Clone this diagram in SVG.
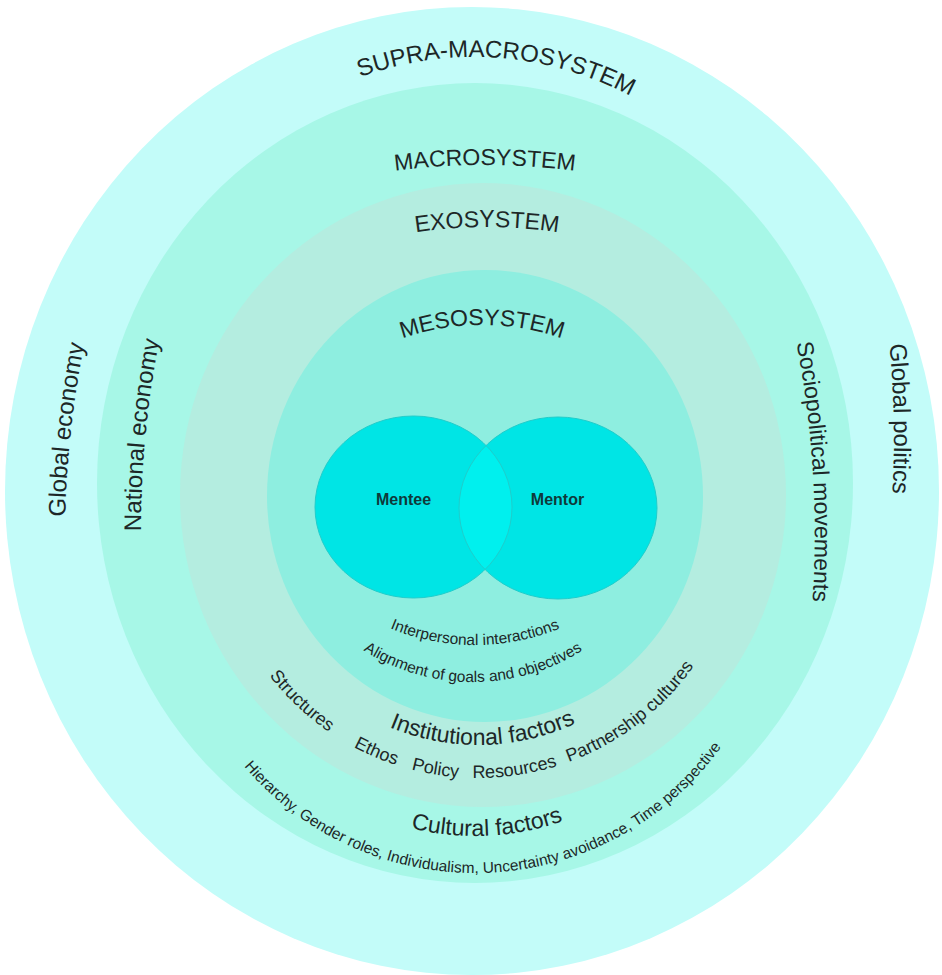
<svg xmlns="http://www.w3.org/2000/svg" width="942" height="975" viewBox="0 0 942 975">
<defs>
<style>
text { font-family: "Liberation Sans", Arial, sans-serif; fill: #1d2727; }
.big { font-size: 24px; }
.mid { font-size: 23px; }
.sm { font-size: 18px; }
.xs { font-size: 15.5px; }
.venn { font-size: 16px; font-weight: bold; fill: #0f3a3a; }
.ring-supra { fill: #c3fcf9; }
.ring-macro { fill: #a7f7e7; }
.ring-exo { fill: #b4ede0; }
.ring-meso { fill: #8eeee0; }
.vfill { fill: #00e5e5; }
.vlens { fill: #00f0ee; }
.vline { fill: none; stroke: #1fcdcb; stroke-width: 1; }
</style>
<path id="p-supra" d="M278.9,120.4 A332,332 0 0 1 704.6,150.2"/>
<path id="p-macro" d="M338.4,180.4 A705,705 0 0 1 631.6,180.4"/>
<path id="p-exo" d="M365.4,243 A470,470 0 0 1 608.6,243"/>
<path id="p-meso" d="M359,358 A246,246 0 0 1 605,358"/>
<path id="p-inter" d="M345.9,604.3 A225,225 0 0 0 604.1,604.3"/>
<path id="p-align" d="M328,622 A205,205 0 0 0 618,622"/>
<path id="p-inst" d="M349.6,705.9 A231,231 0 0 0 614.4,700.4"/>
<path id="p-row" d="M214,514 A264,264 0 0 0 742,514"/>
<path id="p-cult" d="M352.6,806.2 A267,267 0 0 0 619.2,793.7"/>
<path id="p-hier" d="M194.2,684.8 A303.6,303.6 0 0 0 764.3,661.5"/>
<path id="p-geco" d="M65.2,560.2 A1000,1000 0 0 1 93.8,301.8"/>
<path id="p-neco" d="M141.6,565.4 A1000,1000 0 0 1 166.4,306.6"/>
<path id="p-socio" d="M790,312.8 A1000,1000 0 0 1 810,632.2"/>
<path id="p-gpol" d="M884.1,299 A1000,1000 0 0 1 888.9,539"/>
<clipPath id="clip-mentee"><ellipse cx="413.5" cy="507" rx="98.5" ry="91"/></clipPath>
</defs>
<rect width="942" height="975" fill="#ffffff"/>
<g id="supra-macrosystem">
<ellipse class="ring-supra" cx="472" cy="491" rx="467" ry="484"/>
<text class="big"><textPath href="#p-supra" startOffset="50%" text-anchor="middle">SUPRA-MACROSYSTEM</textPath></text>
<text class="big"><textPath href="#p-geco" startOffset="50%" text-anchor="middle">Global economy</textPath></text>
<text class="big"><textPath href="#p-gpol" startOffset="50%" text-anchor="middle">Global politics</textPath></text>
</g>
<g id="macrosystem">
<ellipse class="ring-macro" cx="475" cy="483" rx="378" ry="400"/>
<text class="mid"><textPath href="#p-macro" startOffset="50%" text-anchor="middle">MACROSYSTEM</textPath></text>
<text class="big"><textPath href="#p-neco" startOffset="50%" text-anchor="middle">National economy</textPath></text>
<text class="mid"><textPath href="#p-socio" startOffset="50%" text-anchor="middle">Sociopolitical movements</textPath></text>
<text class="mid"><textPath href="#p-cult" startOffset="50%" text-anchor="middle">Cultural factors</textPath></text>
<text class="xs"><textPath href="#p-hier" startOffset="50%" text-anchor="middle">Hierarchy, Gender roles, Individualism, Uncertainty avoidance, Time perspective</textPath></text>
</g>
<g id="exosystem">
<ellipse class="ring-exo" cx="483" cy="495" rx="303" ry="312"/>
<text class="mid"><textPath href="#p-exo" startOffset="50%" text-anchor="middle">EXOSYSTEM</textPath></text>
<text class="mid"><textPath href="#p-inst" startOffset="50%" text-anchor="middle">Institutional factors</textPath></text>
<text class="sm"><textPath href="#p-row" startOffset="174">Structures</textPath></text>
<text class="sm"><textPath href="#p-row" startOffset="285">Ethos</textPath></text>
<text class="sm"><textPath href="#p-row" startOffset="347">Policy</textPath></text>
<text class="sm"><textPath href="#p-row" startOffset="409">Resources</textPath></text>
<text class="sm"><textPath href="#p-row" startOffset="507">Partnership cultures</textPath></text>
</g>
<g id="mesosystem">
<ellipse class="ring-meso" cx="485" cy="496" rx="218" ry="226"/>
<text class="mid"><textPath href="#p-meso" startOffset="50%" text-anchor="middle">MESOSYSTEM</textPath></text>
<text class="xs"><textPath href="#p-inter" startOffset="50%" text-anchor="middle">Interpersonal interactions</textPath></text>
<text class="xs"><textPath href="#p-align" startOffset="50%" text-anchor="middle">Alignment of goals and objectives</textPath></text>
</g>
<g id="mentee">
<ellipse class="vfill" cx="413.5" cy="507" rx="98.5" ry="91"/>
</g>
<g id="mentor">
<ellipse class="vfill" cx="558" cy="508" rx="99" ry="91"/>
<ellipse class="vlens" cx="558" cy="508" rx="99" ry="91" clip-path="url(#clip-mentee)"/>
<ellipse class="vline" cx="413.5" cy="507" rx="98.5" ry="91"/>
<ellipse class="vline" cx="558" cy="508" rx="99" ry="91"/>
<text class="venn" x="403.5" y="505" text-anchor="middle">Mentee</text>
<text class="venn" x="557.5" y="505" text-anchor="middle">Mentor</text>
</g>
<g id="connectors"></g>
</svg>
